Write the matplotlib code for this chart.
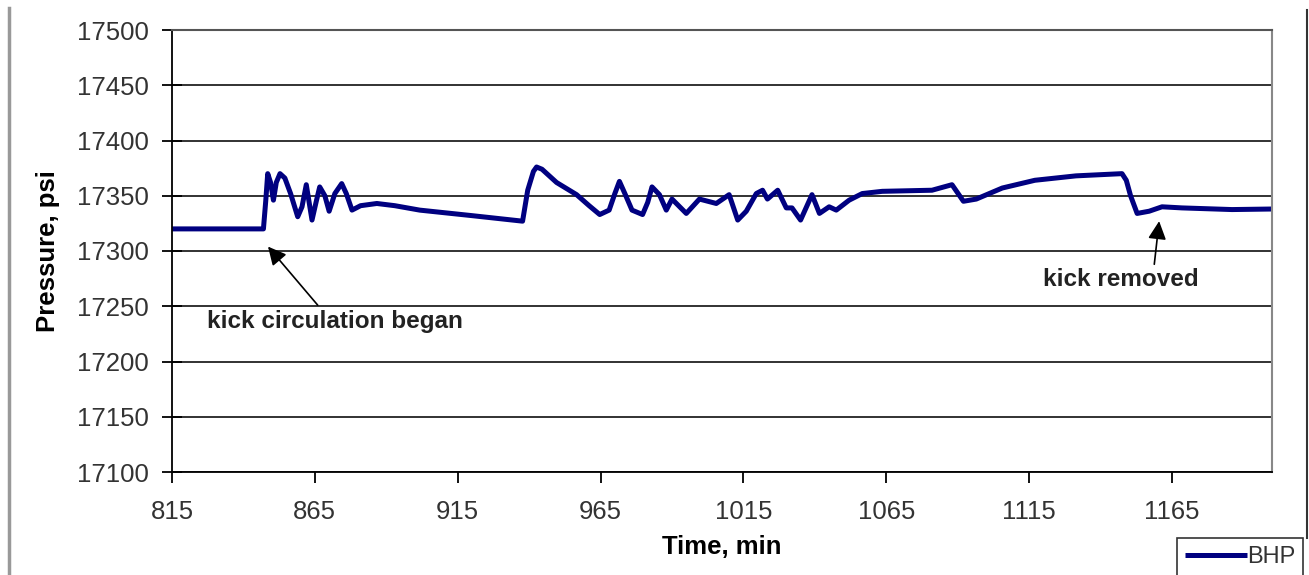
import matplotlib.pyplot as plt
from matplotlib.lines import Line2D

plt.rcParams['font.family'] = ['Liberation Sans', 'DejaVu Sans']

# BHP trace
time_min = [815, 847, 847.8, 848.5, 849.5, 850.5, 851.5, 852.8, 854.5, 856.5,
            859, 860.5, 862, 864, 865.5, 866.7, 868.5, 870, 872, 874.4, 876,
            878, 881, 886.7, 893, 901.7, 920, 937.7, 939.5, 941.5, 942.6, 944.5,
            949.6, 956.6, 961, 964.7, 968, 970, 971.6, 973.5, 976, 979.7, 981.5,
            983, 985.6, 988, 990, 995, 999.6, 1005.5, 1010, 1013, 1016, 1019.5,
            1021.7, 1023.4, 1027, 1030, 1032, 1035, 1039, 1041.6, 1045, 1047.5,
            1052, 1056.6, 1063.6, 1081, 1088, 1092, 1096.5, 1105.6, 1117, 1131.4,
            1147.5, 1149, 1150.5, 1152.8, 1157, 1161.5, 1168.5, 1186, 1200]
bhp_psi = [17320, 17320, 17345, 17370, 17362, 17346, 17362, 17370, 17366, 17352,
           17331, 17340, 17360, 17328, 17345, 17358, 17350, 17336, 17352, 17361,
           17352, 17337, 17341, 17343, 17341, 17337, 17332, 17327, 17355, 17372,
           17376, 17374, 17362, 17351, 17341, 17333, 17337, 17352, 17363, 17352,
           17337, 17333, 17344, 17358, 17351, 17337, 17347, 17334, 17347, 17343,
           17351, 17328, 17336, 17352, 17355, 17347, 17355, 17339, 17339, 17328,
           17351, 17334, 17340, 17337, 17346, 17352, 17354, 17355, 17360, 17345,
           17347, 17357, 17364, 17368, 17370, 17364, 17350, 17334, 17336, 17340,
           17339, 17337.5, 17338]

xticks = [815, 865, 915, 965, 1015, 1065, 1115, 1165]
yticks = [17100, 17150, 17200, 17250, 17300, 17350, 17400, 17450, 17500]

fig = plt.figure(figsize=(13.09, 5.75), dpi=100)
ax = fig.add_axes([172/1309, 1 - 472/575, (1272-172)/1309, (472-30)/575])

ax.plot(time_min, bhp_psi, color='#000080', lw=3.6, label='BHP',
        solid_capstyle='butt', solid_joinstyle='round')

ax.set_xlim(815, 1200)
ax.set_ylim(17100, 17500)
ax.set_xticks(xticks)
ax.set_yticks(yticks)
ax.grid(axis='y', color='#222222', lw=1.3)
ax.set_axisbelow(True)

ax.spines['left'].set_color('black')
ax.spines['bottom'].set_color('black')
ax.spines['left'].set_linewidth(1.3)
ax.spines['bottom'].set_linewidth(1.3)
ax.spines['top'].set_color('#555555')
ax.spines['top'].set_linewidth(1.5)
ax.spines['right'].set_color('#888888')
ax.spines['right'].set_linewidth(1.5)

ax.tick_params(axis='y', direction='inout', length=14, width=1.3, labelsize=18.5,
               labelcolor='#333333', pad=10)
ax.tick_params(axis='x', direction='out', length=8, width=1.3, labelsize=18.5,
               labelcolor='#333333', pad=12)

ax.set_xlabel('Time, min', fontsize=18.5, fontweight='bold', labelpad=8)
ax.set_ylabel('Pressure, psi', fontsize=18.5, fontweight='bold', labelpad=12)

arrow = dict(arrowstyle='-|>,head_length=1.1,head_width=0.55', color='black',
             lw=1.2, shrinkA=0, shrinkB=0)
ax.annotate('', xy=(848.6, 17304), xytext=(866, 17251), arrowprops=arrow)
ax.text(872, 17236, 'kick circulation began', fontsize=17.5, fontweight='bold',
        color='#222222', ha='center', va='center')
ax.annotate('', xy=(1160.5, 17327), xytext=(1158.8, 17288), arrowprops=arrow)
ax.text(1147, 17274, 'kick removed', fontsize=17.5, fontweight='bold',
        color='#222222', ha='center', va='center')

leg = fig.legend(loc='upper left', bbox_to_anchor=(1177/1309, 1 - 538/575),
                 fontsize=17, frameon=True, fancybox=False, edgecolor='black',
                 borderaxespad=0, handlelength=2.6, handletextpad=0.0,
                 borderpad=0.35)
leg.get_frame().set_linewidth(1.2)
for t in leg.get_texts():
    t.set_color('#333333')

# outer chart border
fig.add_artist(Line2D([9/1309, 9/1309], [0, 1 - 8/575], color='#999999', lw=2.5))
fig.add_artist(Line2D([1307/1309, 1307/1309], [1 - 538/575, 1 - 10/575],
                      color='#333333', lw=1.5))

fig.savefig('out.png', dpi=100)
